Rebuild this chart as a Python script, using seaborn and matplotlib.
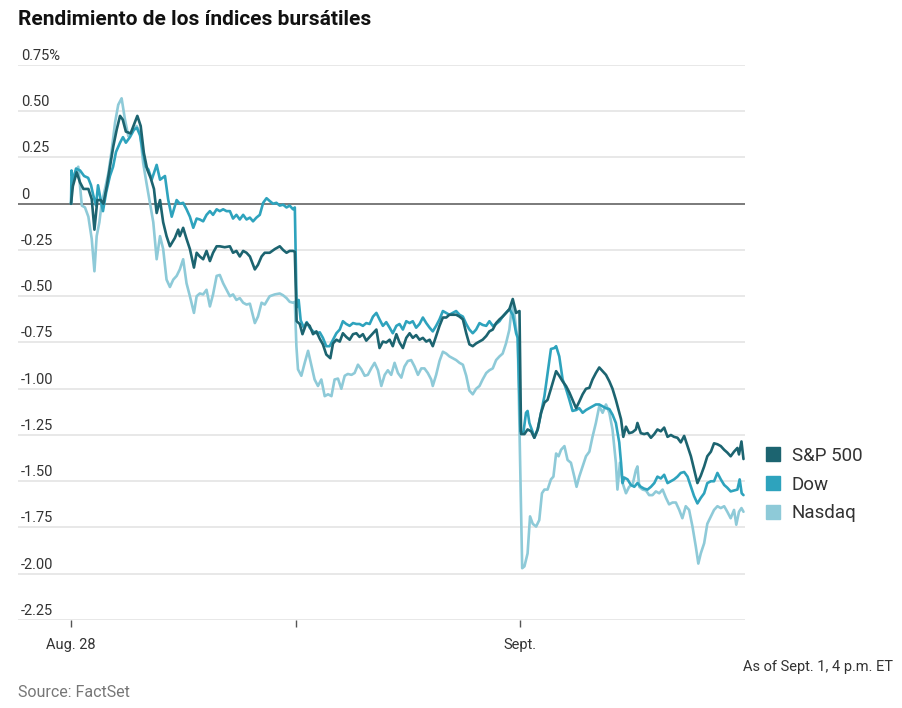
import pandas as pd
import matplotlib
matplotlib.use("Agg")
import matplotlib.pyplot as plt
from matplotlib.patches import Patch
from matplotlib.transforms import blended_transform_factory
import seaborn as sns

# time axis: trading sessions since the Aug. 28 open (1.0 = one session)
sp_t = [0.0, 0.008, 0.025, 0.04, 0.055, 0.077, 0.092, 0.104, 0.117, 0.132, 0.144, 0.159, 0.173, 0.188,
        0.203, 0.218, 0.23, 0.244, 0.265, 0.284, 0.295, 0.31, 0.324, 0.339, 0.354, 0.369, 0.381, 0.396,
        0.41, 0.425, 0.44, 0.462, 0.477, 0.484, 0.499, 0.514, 0.529, 0.547, 0.559, 0.573, 0.588, 0.603,
        0.618, 0.632, 0.648, 0.662, 0.684, 0.707, 0.721, 0.736, 0.751, 0.766, 0.781, 0.796, 0.818, 0.832,
        0.848, 0.862, 0.884, 0.907, 0.929, 0.944, 0.959, 0.973, 0.988, 0.996,
        1.004, 1.018, 1.03, 1.048, 1.062, 1.077, 1.092, 1.107, 1.121, 1.136, 1.154, 1.166, 1.181, 1.196,
        1.21, 1.225, 1.24, 1.255, 1.27, 1.284, 1.299, 1.314, 1.329, 1.344, 1.359, 1.373, 1.388, 1.403,
        1.418, 1.432, 1.448, 1.462, 1.477, 1.492, 1.507, 1.521, 1.536, 1.551, 1.566, 1.581, 1.596, 1.61,
        1.625, 1.64, 1.655, 1.67, 1.684, 1.699, 1.714, 1.729, 1.744, 1.759, 1.773, 1.788, 1.803, 1.818,
        1.832, 1.848, 1.862, 1.877, 1.892, 1.907, 1.921, 1.936, 1.951, 1.966, 1.981, 1.996,
        2.003, 2.018, 2.032, 2.048, 2.062, 2.077, 2.092, 2.107, 2.121, 2.136, 2.159, 2.173, 2.188, 2.203,
        2.218, 2.232, 2.248, 2.262, 2.277, 2.292, 2.307, 2.321, 2.336, 2.351, 2.366, 2.381, 2.396, 2.41,
        2.425, 2.44, 2.448, 2.458, 2.47, 2.484, 2.499, 2.514, 2.521, 2.536, 2.551, 2.566, 2.581, 2.596,
        2.61, 2.625, 2.64, 2.655, 2.67, 2.684, 2.699, 2.714, 2.729, 2.744, 2.759, 2.773, 2.788, 2.803,
        2.818, 2.832, 2.848, 2.862, 2.877, 2.892, 2.907, 2.921, 2.936, 2.951, 2.966, 2.973, 2.984, 2.993]
sp_v = [0.0, 0.095, 0.17, 0.115, 0.08, 0.08, 0.025, -0.14, 0.02, 0.02, 0.0, 0.095, 0.2, 0.31,
        0.4, 0.475, 0.455, 0.39, 0.38, 0.44, 0.475, 0.42, 0.275, 0.185, 0.14, 0.08, -0.05, 0.02,
        -0.1, -0.175, -0.23, -0.185, -0.14, -0.175, -0.13, -0.19, -0.245, -0.345, -0.265, -0.285, -0.3, -0.255,
        -0.31, -0.265, -0.23, -0.23, -0.235, -0.23, -0.265, -0.255, -0.285, -0.255, -0.265, -0.285, -0.355, -0.33,
        -0.285, -0.265, -0.265, -0.245, -0.23, -0.25, -0.265, -0.255, -0.255, -0.26,
        -0.635, -0.65, -0.705, -0.645, -0.66, -0.705, -0.69, -0.73, -0.76, -0.815, -0.835, -0.755, -0.735, -0.745,
        -0.7, -0.72, -0.735, -0.705, -0.7, -0.72, -0.705, -0.74, -0.72, -0.7, -0.68, -0.78, -0.745, -0.75,
        -0.735, -0.77, -0.705, -0.75, -0.78, -0.725, -0.7, -0.725, -0.71, -0.735, -0.725, -0.745, -0.735, -0.77,
        -0.715, -0.66, -0.615, -0.615, -0.6, -0.6, -0.6, -0.61, -0.625, -0.7, -0.76, -0.77, -0.755, -0.745,
        -0.735, -0.715, -0.69, -0.68, -0.645, -0.625, -0.61, -0.59, -0.57, -0.515, -0.59, -0.58,
        -1.245, -1.245, -1.22, -1.23, -1.265, -1.22, -1.13, -1.075, -1.06, -1.0, -0.905, -0.93, -0.96, -0.985,
        -1.02, -1.06, -1.105, -1.07, -1.03, -1.0, -0.995, -0.95, -0.915, -0.885, -0.905, -0.925, -0.96, -1.0,
        -1.06, -1.13, -1.165, -1.26, -1.205, -1.24, -1.235, -1.22, -1.185, -1.24, -1.245, -1.24, -1.265, -1.245,
        -1.22, -1.23, -1.21, -1.26, -1.25, -1.26, -1.265, -1.29, -1.255, -1.31, -1.365, -1.435, -1.51, -1.47,
        -1.42, -1.365, -1.34, -1.295, -1.3, -1.31, -1.33, -1.345, -1.365, -1.34, -1.32, -1.355, -1.285, -1.38]

dow_t = [0.0, 0.002, 0.009, 0.022, 0.04, 0.058, 0.076, 0.089, 0.098, 0.111, 0.12, 0.129, 0.142, 0.156,
         0.173, 0.187, 0.2, 0.218, 0.231, 0.244, 0.262, 0.28, 0.293, 0.307, 0.32, 0.333, 0.344, 0.359,
         0.381, 0.396, 0.418, 0.432, 0.448, 0.47, 0.484, 0.499, 0.514, 0.529, 0.544, 0.559, 0.573, 0.588,
         0.603, 0.618, 0.632, 0.648, 0.662, 0.677, 0.692, 0.707, 0.721, 0.736, 0.751, 0.766, 0.781, 0.796,
         0.81, 0.825, 0.84, 0.855, 0.87, 0.884, 0.899, 0.914, 0.929, 0.944, 0.959, 0.973, 0.988, 0.996,
         1.004, 1.013, 1.022, 1.036, 1.049, 1.062, 1.077, 1.092, 1.107, 1.121, 1.136, 1.151, 1.166, 1.181,
         1.196, 1.21, 1.225, 1.24, 1.255, 1.27, 1.284, 1.299, 1.314, 1.329, 1.344, 1.359, 1.373, 1.388,
         1.403, 1.418, 1.432, 1.448, 1.462, 1.477, 1.492, 1.507, 1.521, 1.536, 1.551, 1.566, 1.581, 1.596,
         1.61, 1.625, 1.64, 1.655, 1.67, 1.684, 1.699, 1.714, 1.729, 1.744, 1.759, 1.773, 1.788, 1.803,
         1.818, 1.832, 1.848, 1.862, 1.877, 1.892, 1.907, 1.921, 1.936, 1.951, 1.966, 1.981, 1.988,
         2.0, 2.013, 2.025, 2.032, 2.04, 2.055, 2.062, 2.077, 2.092, 2.107, 2.121, 2.136, 2.151, 2.159,
         2.173, 2.188, 2.203, 2.218, 2.232, 2.248, 2.262, 2.277, 2.292, 2.307, 2.321, 2.336, 2.351, 2.366,
         2.381, 2.396, 2.41, 2.425, 2.44, 2.448, 2.455, 2.462, 2.477, 2.492, 2.507, 2.521, 2.536, 2.551,
         2.566, 2.581, 2.596, 2.61, 2.625, 2.64, 2.655, 2.67, 2.684, 2.699, 2.714, 2.729, 2.744, 2.759,
         2.773, 2.788, 2.803, 2.818, 2.832, 2.848, 2.862, 2.877, 2.892, 2.907, 2.921, 2.936, 2.951, 2.966,
         2.976, 2.985, 2.993]
dow_v = [0.0, 0.18, 0.12, 0.19, 0.18, 0.15, 0.14, 0.1, 0.05, -0.01, 0.1, 0.04, -0.04, 0.06,
         0.15, 0.2, 0.28, 0.33, 0.36, 0.33, 0.36, 0.4, 0.41, 0.37, 0.28, 0.2, 0.185, 0.13,
         0.21, 0.13, 0.15, 0.025, -0.07, 0.02, 0.0, 0.005, -0.03, -0.07, -0.13, -0.08, -0.085, -0.095,
         -0.06, -0.04, -0.06, -0.03, -0.04, -0.03, -0.04, -0.04, -0.08, -0.06, -0.085, -0.06, -0.085, -0.075,
         -0.095, -0.075, -0.06, 0.005, 0.03, 0.015, 0.0, 0.005, -0.01, -0.005, -0.02, -0.01, -0.03, -0.02,
         -0.56, -0.52, -0.63, -0.67, -0.64, -0.67, -0.69, -0.7, -0.695, -0.725, -0.77, -0.77, -0.735, -0.7,
         -0.68, -0.635, -0.65, -0.66, -0.645, -0.65, -0.65, -0.66, -0.645, -0.65, -0.61, -0.59, -0.625, -0.66,
         -0.64, -0.67, -0.7, -0.66, -0.65, -0.68, -0.635, -0.645, -0.635, -0.67, -0.65, -0.615, -0.645, -0.67,
         -0.69, -0.66, -0.625, -0.58, -0.59, -0.6, -0.59, -0.58, -0.6, -0.61, -0.65, -0.68, -0.7, -0.68,
         -0.645, -0.655, -0.66, -0.635, -0.66, -0.65, -0.635, -0.61, -0.59, -0.57, -0.6, -0.7, -0.725,
         -1.23, -1.24, -1.13, -1.12, -1.185, -1.235, -1.265, -1.22, -1.13, -1.04, -0.915, -0.785, -0.78, -0.77,
         -0.825, -0.95, -1.0, -1.06, -1.12, -1.115, -1.105, -1.13, -1.115, -1.105, -1.095, -1.085, -1.085, -1.095,
         -1.105, -1.11, -1.14, -1.185, -1.29, -1.4, -1.51, -1.48, -1.49, -1.52, -1.53, -1.51, -1.53, -1.54,
         -1.545, -1.53, -1.51, -1.475, -1.485, -1.465, -1.51, -1.5, -1.49, -1.475, -1.455, -1.45, -1.475, -1.53,
         -1.58, -1.62, -1.59, -1.565, -1.51, -1.5, -1.5, -1.455, -1.49, -1.52, -1.535, -1.555, -1.55, -1.545,
         -1.49, -1.565, -1.575]

ndq_t = [0.0, 0.003, 0.018, 0.032, 0.048, 0.062, 0.077, 0.092, 0.104, 0.114, 0.126, 0.136, 0.151, 0.166,
         0.181, 0.196, 0.21, 0.225, 0.24, 0.255, 0.27, 0.292, 0.307, 0.321, 0.336, 0.351, 0.366, 0.381,
         0.396, 0.41, 0.425, 0.44, 0.455, 0.47, 0.484, 0.499, 0.514, 0.529, 0.547, 0.559, 0.573, 0.588,
         0.603, 0.618, 0.632, 0.648, 0.662, 0.677, 0.692, 0.707, 0.721, 0.736, 0.751, 0.766, 0.781, 0.796,
         0.818, 0.832, 0.848, 0.862, 0.884, 0.907, 0.929, 0.944, 0.959, 0.973, 0.988, 0.996,
         1.003, 1.01, 1.025, 1.04, 1.055, 1.07, 1.084, 1.099, 1.114, 1.129, 1.144, 1.159, 1.173, 1.188,
         1.203, 1.218, 1.232, 1.248, 1.262, 1.277, 1.292, 1.307, 1.321, 1.336, 1.351, 1.366, 1.381, 1.396,
         1.41, 1.425, 1.44, 1.455, 1.47, 1.484, 1.499, 1.514, 1.529, 1.544, 1.559, 1.573, 1.588, 1.603,
         1.61, 1.625, 1.64, 1.655, 1.67, 1.684, 1.699, 1.714, 1.729, 1.744, 1.759, 1.773, 1.788, 1.803,
         1.818, 1.832, 1.848, 1.862, 1.877, 1.892, 1.907, 1.921, 1.936, 1.951, 1.959, 1.966, 1.973, 1.981,
         1.988,
         2.008, 2.018, 2.032, 2.043, 2.055, 2.07, 2.084, 2.096, 2.107, 2.121, 2.136, 2.147, 2.159, 2.17,
         2.181, 2.196, 2.21, 2.225, 2.24, 2.25, 2.262, 2.277, 2.292, 2.307, 2.321, 2.336, 2.351, 2.366,
         2.381, 2.396, 2.41, 2.425, 2.432, 2.443, 2.455, 2.47, 2.484, 2.499, 2.514, 2.521, 2.529, 2.544,
         2.559, 2.573, 2.588, 2.603, 2.618, 2.633, 2.648, 2.662, 2.677, 2.692, 2.707, 2.721, 2.736, 2.751,
         2.766, 2.781, 2.792, 2.803, 2.818, 2.832, 2.848, 2.862, 2.877, 2.892, 2.907, 2.921, 2.936, 2.951,
         2.961, 2.973, 2.984, 2.993]
ndq_v = [0.0, 0.09, 0.17, 0.2, -0.01, -0.02, -0.07, -0.19, -0.365, -0.175, -0.1, 0.0, 0.08, 0.165,
         0.29, 0.44, 0.535, 0.57, 0.455, 0.365, 0.39, 0.42, 0.38, 0.22, 0.11, 0.005, -0.1, -0.3,
         -0.175, -0.245, -0.41, -0.45, -0.41, -0.39, -0.355, -0.3, -0.43, -0.5, -0.59, -0.5, -0.485, -0.49,
         -0.465, -0.555, -0.49, -0.39, -0.385, -0.43, -0.465, -0.5, -0.49, -0.52, -0.51, -0.535, -0.545, -0.54,
         -0.645, -0.61, -0.535, -0.545, -0.5, -0.49, -0.485, -0.495, -0.51, -0.53, -0.535, -0.53,
         -0.77, -0.895, -0.93, -0.86, -0.795, -0.875, -0.95, -0.985, -0.95, -1.04, -1.03, -1.04, -0.95, -0.945,
         -1.0, -0.93, -0.92, -0.925, -0.915, -0.87, -0.895, -0.93, -0.925, -0.89, -0.86, -0.9, -0.985, -0.925,
         -0.9, -0.925, -0.86, -0.915, -0.94, -0.88, -0.85, -0.845, -0.88, -0.925, -0.89, -0.89, -0.915, -0.95,
         -0.985, -0.925, -0.85, -0.8, -0.81, -0.825, -0.835, -0.845, -0.86, -0.87, -0.93, -1.01, -1.03, -1.0,
         -0.985, -0.95, -0.915, -0.9, -0.89, -0.845, -0.825, -0.81, -0.755, -0.68, -0.59, -0.535, -0.59, -0.68,
         -0.72,
         -1.97, -1.96, -1.89, -1.69, -1.73, -1.745, -1.71, -1.565, -1.545, -1.545, -1.49, -1.475, -1.35, -1.365,
         -1.33, -1.31, -1.385, -1.4, -1.475, -1.53, -1.475, -1.42, -1.365, -1.34, -1.26, -1.185, -1.095, -1.13,
         -1.085, -1.13, -1.22, -1.4, -1.545, -1.4, -1.51, -1.565, -1.53, -1.52, -1.44, -1.42, -1.53, -1.545,
         -1.55, -1.575, -1.575, -1.555, -1.565, -1.545, -1.59, -1.625, -1.615, -1.615, -1.655, -1.7, -1.635, -1.655,
         -1.745, -1.855, -1.945, -1.89, -1.835, -1.73, -1.69, -1.655, -1.635, -1.645, -1.635, -1.665, -1.7, -1.655,
         -1.735, -1.665, -1.645, -1.665]

series_names = ["S&P 500", "Dow", "Nasdaq"]
colors = ["#1c6470", "#2ea3bd", "#8ecad8"]

y_ticks = [0.75, 0.5, 0.25, 0, -0.25, -0.5, -0.75, -1.0, -1.25, -1.5, -1.75, -2.0, -2.25]
y_labels = ["0.75%", "0.50", "0.25", "0", "-0.25", "-0.50", "-0.75", "-1.00", "-1.25", "-1.50",
            "-1.75", "-2.00", "-2.25"]
x_ticks = [0, 1, 2]
x_labels = ["Aug. 28", "", "Sept."]

frames = []
for name, t, v in zip(series_names, [sp_t, dow_t, ndq_t], [sp_v, dow_v, ndq_v]):
    frames.append(pd.DataFrame({"t": t, "pct": v, "index": name}))
df = pd.concat(frames, ignore_index=True)

sns.set_style("white")
plt.rcParams["font.family"] = ["Roboto", "DejaVu Sans"]
narrow = ["Liberation Sans Narrow", "Roboto", "DejaVu Sans"]

fig = plt.figure(figsize=(9.02, 7.08), dpi=100)
ax = fig.add_axes([0.02, 0.1243, 0.806, 0.7839])

# draw the lines back to front so S&P sits on top
for name, col in reversed(list(zip(series_names, colors))):
    sns.lineplot(data=df[df["index"] == name], x="t", y="pct", color=col, lw=1.9,
                 estimator=None, sort=False, ax=ax, legend=False, zorder=3)

ax.set_xlim(-0.236, 3.0)
ax.set_ylim(-2.25, 0.75)
ax.set_xlabel("")
ax.set_ylabel("")
for s in ax.spines.values():
    s.set_visible(False)

ax.set_yticks(y_ticks)
ax.set_yticklabels([])
ax.tick_params(axis="y", length=0, left=False)
for yv in y_ticks:
    if yv == 0:
        ax.axhline(yv, color="#7a7a7a", lw=1.4, zorder=2)
    else:
        ax.axhline(yv, color="#e4e4e4", lw=1.2, zorder=1)

trans = blended_transform_factory(ax.transAxes, ax.transData)
for yv, lab in zip(y_ticks, y_labels):
    ax.text(0.004, yv + 0.012, lab, transform=trans, ha="left", va="bottom",
            fontsize=10.5, color="#333333", family=narrow)

ax.set_xticks(x_ticks)
ax.set_xticklabels(x_labels, fontsize=10.5, color="#333333", family=narrow)
ax.tick_params(axis="x", bottom=True, length=5, width=1, color="#555555", pad=8, direction="out")

handles = [Patch(facecolor=c, edgecolor=c, label=n) for n, c in zip(series_names, colors)]
fig.legend(handles=handles, loc="upper left", bbox_to_anchor=(0.831, 0.393), frameon=False,
           fontsize=13.5, handlelength=0.75, handleheight=0.75, handletextpad=0.6, labelspacing=0.58,
           labelcolor="#333333")

fig.text(0.02, 0.972, "Rendimiento de los índices bursátiles", fontsize=15, fontweight="bold",
         color="#111111", ha="left", va="center")
fig.text(0.99, 0.058, "As of Sept. 1, 4 p.m. ET", fontsize=10.5, color="#333333", ha="right", va="center",
         family=narrow)
fig.text(0.02, 0.022, "Source: FactSet", fontsize=11.5, color="#777777", ha="left", va="center")

fig.savefig("out.png", dpi=100)
